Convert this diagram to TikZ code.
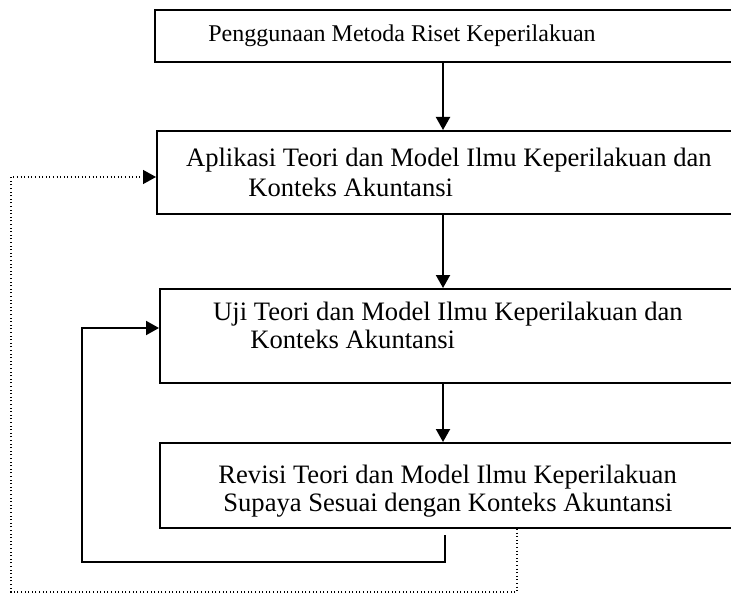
\documentclass[tikz,border=0pt]{standalone}
\usepackage{fontspec}
\setmainfont{Liberation Serif}
\usetikzlibrary{arrows.meta,fit}
\begin{document}
\begin{tikzpicture}[x=0.5pt,y=-0.5pt,line join=miter,
    font=\fontsize{13.3}{14}\selectfont,
    box/.style={draw,line width=1pt,inner sep=0pt},
    txt/.style={anchor=base west,inner sep=0pt},
    txtr/.style={anchor=base east,inner sep=0pt},
    arr/.style={line width=1pt,-{Triangle[length=6.5pt,width=7pt]}},
    dots/.style={line width=0.7pt,dash pattern=on 0.5pt off 1.3pt,-{Triangle[length=6.5pt,width=7pt]}}]
  \useasboundingbox (0,0) rectangle (731,593);
  \clip (0,0) rectangle (731,593);
  % kotak
  \node[box,fit={(155,10) (745,62)}] (metoda) {};
  \node[box,fit={(157,131) (745,214)}] (aplikasi) {};
  \node[box,fit={(160,289) (745,383)}] (uji) {};
  \node[box,fit={(160,443) (745,528)}] (revisi) {};
  % teks
  \node[txt,font=\fontsize{12}{14}\selectfont] (metoda1) at (208,42) {Penggunaan Metoda Riset Keperilakuan};
  \node[txtr] (aplikasi1) at (712,167) {Aplikasi Teori dan Model Ilmu Keperilakuan dan};
  \node[txt] (aplikasi2) at (248,196) {Konteks Akuntansi};
  \node[txtr] (uji1) at (683,320) {Uji Teori dan Model Ilmu Keperilakuan dan};
  \node[txt] (uji2) at (250,348) {Konteks Akuntansi};
  \node[txt] (revisi1) at (218,483) {Revisi Teori dan Model Ilmu Keperilakuan};
  \node[txt] (revisi2) at (223,511) {Supaya Sesuai dengan Konteks Akuntansi};
  % panah
  \coordinate (col) at (443,0);
  \draw[arr] (metoda.south -| col) -- (aplikasi.north -| col);
  \draw[arr] (aplikasi.south -| col) -- (uji.north -| col);
  \draw[arr] (uji.south -| col) -- (revisi.north -| col);
  % umpan balik
  \coordinate (rev_a) at (445,535);
  \coordinate (rev_b) at (82,562);
  \coordinate (uji_in) at (0,328);
  \draw[arr] (rev_a) |- (rev_b) |- (uji.west |- uji_in);
  \coordinate (rev_c) at (517,0);
  \coordinate (dot_b) at (11,592);
  \coordinate (apl_in) at (0,177);
  \draw[dots] (revisi.south -| rev_c) |- (dot_b) |- (aplikasi.west |- apl_in);
\end{tikzpicture}
\end{document}
